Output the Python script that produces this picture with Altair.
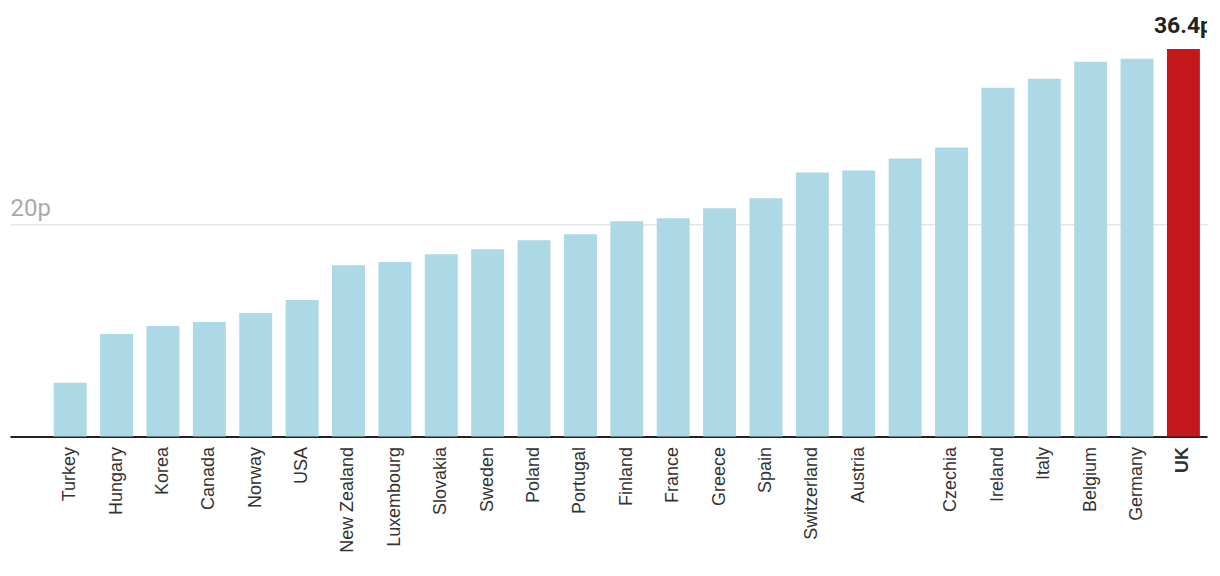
import altair as alt
import pandas as pd

countries = ["Turkey", "Hungary", "Korea", "Canada", "Norway", "USA", "New Zealand",
             "Luxembourg", "Slovakia", "Sweden", "Poland", "Portugal", "Finland", "France",
             "Greece", "Spain", "Switzerland", "Austria", " ", "Czechia", "Ireland", "Italy",
             "Belgium", "Germany", "UK"]
values = [5.06, 9.64, 10.39, 10.77, 11.61, 12.83, 16.1, 16.39, 17.13, 17.6, 18.45, 19.0,
          20.22, 20.51, 21.44, 22.38, 24.81, 25.0, 26.12, 27.15, 32.77, 33.61, 35.2, 35.49, 36.4]
highlight = "UK"
y_ticks = [20]

df = pd.DataFrame({"country": countries, "value": values})
df["label"] = [f"{v:.1f}p" if c == highlight else "" for c, v in zip(countries, values)]

FONT = "Roboto"
LABEL_FONT = "Liberation Sans"

x = alt.X("country:N", sort=countries, title=None,
          scale=alt.Scale(paddingInner=0.29, paddingOuter=0.548, align=0.86),
          axis=alt.Axis(labelAngle=270, labelFontSize=18, labelColor="#333333",
                        labelFont=LABEL_FONT, labelPadding=10, ticks=False,
                        domainColor="#222222", domainWidth=2,
                        labelFontWeight={"expr": "datum.value == 'UK' ? 'bold' : 'normal'"}))
y = alt.Y("value:Q", title=None, scale=alt.Scale(domain=[0, 40], nice=False),
          axis=alt.Axis(values=y_ticks, grid=True, gridColor="#e6e6e6", gridWidth=1.5,
                        domain=False, ticks=False, tickSize=0, labelAlign="left",
                        labelBaseline="alphabetic", labelPadding=0, labelOffset=-8,
                        labelFontSize=24, labelColor="#aaaaaa", labelFont=FONT,
                        labelExpr="datum.value + 'p'"))

bars = alt.Chart(df).mark_bar().encode(
    x=x, y=y,
    color=alt.condition(alt.datum.country == highlight, alt.value("#c4171b"), alt.value("#add8e6")),
)

text = alt.Chart(df).mark_text(font=FONT, fontSize=23, fontWeight="bold", color="#222222",
                               baseline="alphabetic", dy=-16, clip=True).encode(
    x=alt.X("country:N", sort=countries),
    y=alt.Y("value:Q"),
    text="label:N",
)

chart = alt.layer(bars, text).properties(
    width=1200, height=427,
    padding={"left": 2, "top": 2, "right": 5, "bottom": 5},
).configure_view(stroke=None)

chart.save("out.html", embed_options={"renderer": "svg", "actions": False})
